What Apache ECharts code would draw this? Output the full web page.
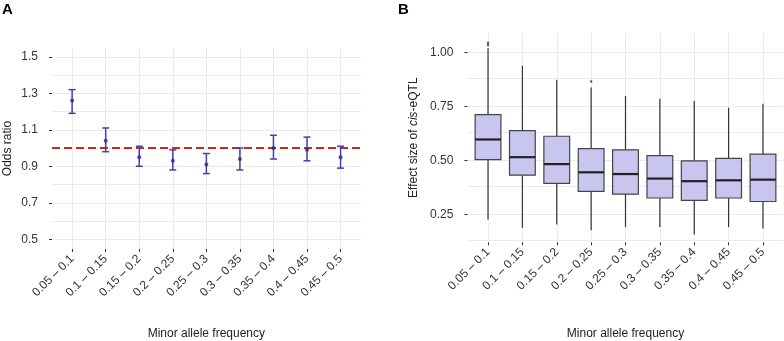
<!DOCTYPE html>
<html>
<head>
<meta charset="utf-8">
<title>MAF odds ratio / cis-eQTL effect size</title>
<script src="https://cdn.jsdelivr.net/npm/echarts@6.0.0/dist/echarts.min.js"></script>
<style>
  html, body { margin: 0; padding: 0; background: #fff; }
  #chart { width: 784px; height: 341px; }
</style>
</head>
<body>
<div id="chart"></div>
<script>
// MAF bins (shared x categories)
const bins = ['0.05 – 0.1', '0.1 – 0.15', '0.15 – 0.2', '0.2 – 0.25', '0.25 – 0.3',
  '0.3 – 0.35', '0.35 – 0.4', '0.4 – 0.45', '0.45 – 0.5']

// panel A: odds ratio with CI
const orMean = [1.26, 1.04, 0.95, 0.93, 0.91, 0.94, 1.00, 0.99, 0.95]
const orLow  = [1.19, 0.98, 0.90, 0.88, 0.86, 0.88, 0.94, 0.93, 0.89]
const orHigh = [1.32, 1.11, 1.01, 0.99, 0.97, 1.00, 1.07, 1.06, 1.01]
const orTicks = [0.5, 0.7, 0.9, 1.1, 1.3, 1.5]
const orGrid = [0.5, 0.6, 0.7, 0.8, 0.9, 1.0, 1.1, 1.2, 1.3, 1.4, 1.5]

// panel B: effect size boxplots
const boxMin = [0.225, 0.187, 0.202, 0.176, 0.190, 0.191, 0.156, 0.191, 0.184]
const boxQ1  = [0.503, 0.431, 0.393, 0.356, 0.343, 0.325, 0.314, 0.325, 0.309]
const boxMed = [0.596, 0.514, 0.482, 0.444, 0.436, 0.415, 0.403, 0.407, 0.410]
const boxQ3  = [0.711, 0.637, 0.611, 0.554, 0.548, 0.521, 0.497, 0.509, 0.528]
const boxMax = [1.018, 0.937, 0.872, 0.837, 0.798, 0.785, 0.775, 0.743, 0.762]
const outliers = [[1, 1.034], [1, 1.044], [4, 0.865]]
const esTicks = [0.25, 0.5, 0.75, 1.0]
const esGrid = [0.125, 0.25, 0.375, 0.5, 0.625, 0.75, 0.875, 1.0]

const xPos = bins.map((b, i) => i + 1)
const FONT = "'Liberation Sans', Arial, sans-serif"
const gridColor = '#ebebeb'

const chart = echarts.init(document.getElementById('chart'))

const xAxisBase = (gridIndex, gap) => ({
  type: 'value',
  gridIndex,
  min: 0.4,
  max: 9.6,
  axisLine: { show: false },
  splitLine: { show: false },
  axisTick: { show: true, customValues: xPos, length: 3, lineStyle: { color: '#333', width: 1 } },
  axisLabel: {
    customValues: xPos,
    rotate: 45,
    margin: 8,
    fontSize: 12,
    color: '#333',
    fontFamily: FONT,
    formatter: (v) => bins[Math.round(v) - 1]
  },
  name: 'Minor allele frequency',
  nameLocation: 'middle',
  nameGap: gap,
  nameTextStyle: { fontSize: 12, color: '#222', fontFamily: FONT }
})

// background grid drawn as mark lines so the breaks can sit off the axis min
const gridLines = (xi, yi, yVals) => ({
  type: 'line',
  xAxisIndex: xi,
  yAxisIndex: yi,
  data: [],
  z: 0,
  silent: true,
  markLine: {
    z: 0,
    silent: true,
    symbol: 'none',
    animation: false,
    label: { show: false },
    lineStyle: { color: gridColor, width: 1, type: 'solid' },
    data: yVals.map(v => ({ yAxis: v })).concat(xPos.map(v => ({ xAxis: v })))
  }
})

const option = {
  animation: false,
  backgroundColor: '#fff',
  textStyle: { fontFamily: FONT },
  graphic: [
    { type: 'text', left: 2, top: 2, style: { text: 'A', font: 'bold 15px ' + FONT, fill: '#000' } },
    { type: 'text', left: 398, top: 2, style: { text: 'B', font: 'bold 15px ' + FONT, fill: '#000' } }
  ],
  grid: [
    { left: 52, top: 48, width: 308.7, height: 201, outerBoundsMode: 'none' },
    { left: 467.4, top: 33, width: 316.2, height: 209.3, outerBoundsMode: 'none' }
  ],
  xAxis: [xAxisBase(0, 79), xAxisBase(1, 85.7)],
  yAxis: [
    {
      type: 'value',
      gridIndex: 0,
      min: 0.447,
      max: 1.548,
      axisLine: { show: false },
      splitLine: { show: false },
      axisTick: { show: true, customValues: orTicks, length: 3, lineStyle: { color: '#333' } },
      axisLabel: {
        customValues: orTicks,
        margin: 14,
        fontSize: 12,
        color: '#333',
        fontFamily: FONT,
        formatter: (v) => v.toFixed(1)
      },
      name: 'Odds ratio',
      nameLocation: 'middle',
      nameGap: 38,
      nameTextStyle: { fontSize: 12, color: '#222', fontFamily: FONT }
    },
    {
      type: 'value',
      gridIndex: 1,
      min: 0.12,
      max: 1.089,
      axisLine: { show: false },
      splitLine: { show: false },
      axisTick: { show: true, customValues: esTicks, length: 3, lineStyle: { color: '#333' } },
      axisLabel: {
        customValues: esTicks,
        margin: 14,
        fontSize: 12,
        color: '#333',
        fontFamily: FONT,
        formatter: (v) => v.toFixed(2)
      },
      name: '{t|Effect size of }{i|cis}{t|-eQTL}',
      nameLocation: 'middle',
      nameGap: 48,
      nameTextStyle: {
        fontSize: 12, color: '#222', fontFamily: FONT,
        rich: {
          t: { fontSize: 12, color: '#222', fontFamily: FONT },
          i: { fontSize: 12, color: '#222', fontFamily: FONT, fontStyle: 'italic' }
        }
      }
    }
  ],
  series: [
    gridLines(0, 0, orGrid),
    gridLines(1, 1, esGrid),
    // reference line at OR = 1
    {
      type: 'line',
      xAxisIndex: 0,
      yAxisIndex: 0,
      data: [],
      z: 3,
      silent: true,
      markLine: {
        z: 3,
        silent: true,
        symbol: 'none',
        animation: false,
        label: { show: false },
        lineStyle: { color: '#c62a22', width: 2, type: [8, 4] },
        data: [{ yAxis: 1.0 }]
      }
    },
    // error bars
    {
      type: 'custom',
      xAxisIndex: 0,
      yAxisIndex: 0,
      z: 10,
      data: xPos.map((x, i) => [x, orLow[i], orHigh[i]]),
      renderItem: (params, api) => {
        const lo = api.coord([api.value(0), api.value(1)])
        const hi = api.coord([api.value(0), api.value(2)])
        const cap = 3.5
        const style = { stroke: '#4640a8', lineWidth: 1.5 }
        return {
          type: 'group',
          children: [
            { type: 'line', shape: { x1: lo[0], y1: lo[1], x2: hi[0], y2: hi[1] }, style },
            { type: 'line', shape: { x1: lo[0] - cap, y1: lo[1], x2: lo[0] + cap, y2: lo[1] }, style },
            { type: 'line', shape: { x1: hi[0] - cap, y1: hi[1], x2: hi[0] + cap, y2: hi[1] }, style }
          ]
        }
      }
    },
    {
      type: 'scatter',
      xAxisIndex: 0,
      yAxisIndex: 0,
      z: 11,
      symbolSize: 4,
      itemStyle: { color: '#2c2690' },
      data: xPos.map((x, i) => [x, orMean[i]])
    },
    // boxplots
    {
      type: 'custom',
      xAxisIndex: 1,
      yAxisIndex: 1,
      z: 10,
      data: xPos.map((x, i) => [x, boxMin[i], boxQ1[i], boxMed[i], boxQ3[i], boxMax[i]]),
      renderItem: (params, api) => {
        const x = api.value(0)
        const pMin = api.coord([x, api.value(1)])
        const pQ1 = api.coord([x, api.value(2)])
        const pMed = api.coord([x, api.value(3)])
        const pQ3 = api.coord([x, api.value(4)])
        const pMax = api.coord([x, api.value(5)])
        const w = api.size([0.75, 0])[0]
        const cx = pQ1[0]
        const whisker = { stroke: '#333', lineWidth: 1.2 }
        return {
          type: 'group',
          children: [
            { type: 'line', shape: { x1: cx, y1: pMin[1], x2: cx, y2: pQ1[1] }, style: whisker },
            { type: 'line', shape: { x1: cx, y1: pQ3[1], x2: cx, y2: pMax[1] }, style: whisker },
            {
              type: 'rect',
              shape: { x: cx - w / 2, y: pQ3[1], width: w, height: pQ1[1] - pQ3[1] },
              style: { fill: '#c8c5ef', stroke: '#444', lineWidth: 1.2 }
            },
            { type: 'line', shape: { x1: cx - w / 2, y1: pMed[1], x2: cx + w / 2, y2: pMed[1] }, style: { stroke: '#222', lineWidth: 2.2 } }
          ]
        }
      }
    },
    {
      type: 'scatter',
      xAxisIndex: 1,
      yAxisIndex: 1,
      z: 11,
      symbolSize: 2.5,
      itemStyle: { color: '#333' },
      data: outliers
    }
  ]
}

chart.setOption(option)
window.addEventListener('resize', () => chart.resize())
</script>
</body>
</html>
